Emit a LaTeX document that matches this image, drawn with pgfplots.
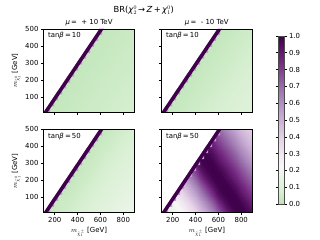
\documentclass[border=0pt]{standalone}
\usepackage{fontspec}
\setmainfont{DejaVu Sans}
\usepackage{pgfplots}
\pgfplotsset{compat=1.18}
\definecolor{zband}{RGB}{64,0,75}
\definecolor{teeth}{RGB}{190,155,205}
\pgfplotsset{
  colormap={brmap}{rgb255(0pt)=(188,228,182) rgb255(77pt)=(217,240,211) rgb255(231pt)=(247,247,247) rgb255(385pt)=(231,212,232) rgb255(538pt)=(194,165,207) rgb255(692pt)=(153,112,171) rgb255(846pt)=(118,42,131) rgb255(1000pt)=(64,0,75)},
  /pgf/number format/assume math mode=true,
  panel/.style={
    scale only axis, width=131.6pt, height=120pt, anchor=south west,
    view={0}{90},
    xmin=100, xmax=900, ymin=10, ymax=500,
    xtick={200,400,600,800}, ytick={100,200,300,400,500},
    tick align=outside, tick pos=left, major tick length=3.5pt,
    tick style={black, line width=0.8pt},
    axis line style={line width=0.8pt},
    axis on top,
    colormap name=brmap, point meta min=0, point meta max=1,
    ticklabel style={font=\fontsize{10}{12}\selectfont},
    label style={font=\fontsize{10}{12}\selectfont},
  },
  noxlabels/.style={xticklabels={}},
  noylabels/.style={yticklabels={}},
}
\newcommand{\bandplots}{%
  \addplot3[draw=none, fill=white] coordinates {(101,10,0) (601,510,0) (80,510,0) (80,10,0)};
  \addplot3[draw=none, fill=teeth] coordinates {(101,10,0) (160,10,0) (160,45,0) (195,45,0) (195,80,0) (230,80,0) (230,115,0) (265,115,0) (265,150,0) (300,150,0) (300,185,0) (335,185,0) (335,220,0) (370,220,0) (370,255,0) (405,255,0) (405,290,0) (440,290,0) (440,325,0) (475,325,0) (475,360,0) (510,360,0) (510,395,0) (545,395,0) (545,430,0) (580,430,0) (580,465,0) (615,465,0) (615,500,0) (650,500,0) (650,510,0) (601,510,0)};
  \addplot3[draw=none, fill=zband] coordinates {(101,10,0) (601,510,0) (638,510,0) (138,10,0)};
}
\begin{document}
\begin{tikzpicture}
\useasboundingbox (0,0) rectangle (460.8pt,345.6pt);
% top left
\begin{axis}[panel, noxlabels, at={(62.4pt,183.9pt)}, ylabel={$m_{\tilde\chi_1^0}$ [GeV]}]
\addplot3[surf, shader=interp, mesh/rows=3, mesh/cols=5] coordinates {
(100,10,0.020) (300,10,0.031) (500,10,0.044) (700,10,0.057) (900,10,0.070)
(100,255,0.001) (300,255,0.014) (500,255,0.028) (700,255,0.041) (900,255,0.054)
(100,500,0.000) (300,500,0.000) (500,500,0.011) (700,500,0.025) (900,500,0.038)
};
\bandplots
\node[anchor=north west, inner sep=0pt, font=\fontsize{10}{12}\selectfont] at (rel axis cs:0.05,0.96,0) {tan\textit{β}\,=\,10};
\end{axis}
% top right
\begin{axis}[panel, noxlabels, noylabels, at={(232.3pt,183.9pt)}]
\addplot3[surf, shader=interp, mesh/rows=3, mesh/cols=5] coordinates {
(100,10,0.015) (300,10,0.039) (500,10,0.063) (700,10,0.086) (900,10,0.110)
(100,255,0.000) (300,255,0.010) (500,255,0.034) (700,255,0.057) (900,255,0.081)
(100,500,0.000) (300,500,0.000) (500,500,0.005) (700,500,0.028) (900,500,0.052)
};
\bandplots
\node[anchor=north west, inner sep=0pt, font=\fontsize{10}{12}\selectfont] at (rel axis cs:0.05,0.96,0) {tan\textit{β}\,=\,10};
\end{axis}
% bottom left
\begin{axis}[panel, at={(62.4pt,39.3pt)}, ylabel={$m_{\tilde\chi_1^0}$ [GeV]}, xlabel={$m_{\tilde\chi_1^\pm}$ [GeV]}]
\addplot3[surf, shader=interp, mesh/rows=3, mesh/cols=5] coordinates {
(100,10,0.012) (300,10,0.054) (500,10,0.096) (700,10,0.138) (900,10,0.180)
(100,255,0.000) (300,255,0.002) (500,255,0.044) (700,255,0.086) (900,255,0.128)
(100,500,0.000) (300,500,0.000) (500,500,0.000) (700,500,0.035) (900,500,0.077)
};
\bandplots
\node[anchor=north west, inner sep=0pt, font=\fontsize{10}{12}\selectfont] at (rel axis cs:0.05,0.96,0) {tan\textit{β}\,=\,50};
\end{axis}
% bottom right
\begin{axis}[panel, noylabels, at={(232.3pt,39.3pt)}, xlabel={$m_{\tilde\chi_1^\pm}$ [GeV]}]
\addplot3[surf, shader=interp, mesh/rows=11, mesh/cols=17] coordinates {
(100,10,0.09) (150,10,0.12) (200,10,0.15) (250,10,0.20) (300,10,0.25) (350,10,0.31) (400,10,0.38) (450,10,0.46) (500,10,0.54) (550,10,0.63) (600,10,0.73) (650,10,0.83) (700,10,0.93) (750,10,0.99) (800,10,1.00) (850,10,0.99) (900,10,0.94)
(100,60,0.12) (150,60,0.15) (200,60,0.20) (250,60,0.25) (300,60,0.31) (350,60,0.38) (400,60,0.46) (450,60,0.54) (500,60,0.63) (550,60,0.73) (600,60,0.83) (650,60,0.93) (700,60,0.99) (750,60,1.00) (800,60,0.99) (850,60,0.94) (900,60,0.88)
(100,110,0.15) (150,110,0.20) (200,110,0.25) (250,110,0.31) (300,110,0.38) (350,110,0.46) (400,110,0.54) (450,110,0.63) (500,110,0.73) (550,110,0.83) (600,110,0.93) (650,110,0.99) (700,110,1.00) (750,110,0.99) (800,110,0.94) (850,110,0.88) (900,110,0.82)
(100,160,0.20) (150,160,0.25) (200,160,0.31) (250,160,0.38) (300,160,0.46) (350,160,0.54) (400,160,0.63) (450,160,0.73) (500,160,0.83) (550,160,0.93) (600,160,0.99) (650,160,1.00) (700,160,0.99) (750,160,0.94) (800,160,0.88) (850,160,0.82) (900,160,0.76)
(100,210,0.25) (150,210,0.31) (200,210,0.38) (250,210,0.46) (300,210,0.54) (350,210,0.63) (400,210,0.73) (450,210,0.83) (500,210,0.93) (550,210,0.99) (600,210,1.00) (650,210,0.99) (700,210,0.94) (750,210,0.88) (800,210,0.82) (850,210,0.76) (900,210,0.70)
(100,260,0.31) (150,260,0.38) (200,260,0.46) (250,260,0.54) (300,260,0.63) (350,260,0.73) (400,260,0.83) (450,260,0.93) (500,260,0.99) (550,260,1.00) (600,260,0.99) (650,260,0.94) (700,260,0.88) (750,260,0.82) (800,260,0.76) (850,260,0.70) (900,260,0.63)
(100,310,0.38) (150,310,0.46) (200,310,0.54) (250,310,0.63) (300,310,0.73) (350,310,0.83) (400,310,0.93) (450,310,0.99) (500,310,1.00) (550,310,0.99) (600,310,0.94) (650,310,0.88) (700,310,0.82) (750,310,0.76) (800,310,0.70) (850,310,0.63) (900,310,0.57)
(100,360,0.46) (150,360,0.54) (200,360,0.63) (250,360,0.73) (300,360,0.83) (350,360,0.93) (400,360,0.99) (450,360,1.00) (500,360,0.99) (550,360,0.94) (600,360,0.88) (650,360,0.82) (700,360,0.76) (750,360,0.70) (800,360,0.63) (850,360,0.57) (900,360,0.51)
(100,410,0.54) (150,410,0.63) (200,410,0.73) (250,410,0.83) (300,410,0.93) (350,410,0.99) (400,410,1.00) (450,410,0.99) (500,410,0.94) (550,410,0.88) (600,410,0.82) (650,410,0.76) (700,410,0.70) (750,410,0.63) (800,410,0.57) (850,410,0.51) (900,410,0.46)
(100,460,0.63) (150,460,0.73) (200,460,0.83) (250,460,0.93) (300,460,0.99) (350,460,1.00) (400,460,0.99) (450,460,0.94) (500,460,0.88) (550,460,0.82) (600,460,0.76) (650,460,0.70) (700,460,0.63) (750,460,0.57) (800,460,0.51) (850,460,0.46) (900,460,0.42)
(100,510,0.73) (150,510,0.83) (200,510,0.93) (250,510,0.99) (300,510,1.00) (350,510,0.99) (400,510,0.94) (450,510,0.88) (500,510,0.82) (550,510,0.76) (600,510,0.70) (650,510,0.63) (700,510,0.57) (750,510,0.51) (800,510,0.46) (850,510,0.42) (900,510,0.38)
};
\bandplots
\node[anchor=north west, inner sep=0pt, font=\fontsize{10}{12}\selectfont] at (rel axis cs:0.05,0.96,0) {tan\textit{β}\,=\,50};
\end{axis}
% colorbar
\pgfplotscolorbardrawstandalone[
  colormap name=brmap, point meta min=0, point meta max=1,
  colorbar style={
    at={(392.1pt,51.8pt)}, anchor=south west,
    scale only axis, width=8.6pt, height=242pt,
    ytick={0,0.1,0.2,0.3,0.4,0.5,0.6,0.7,0.8,0.9,1},
    yticklabel={\pgfmathprintnumber[fixed,fixed zerofill,precision=1]{\tick}},
    yticklabel style={font=\fontsize{10}{12}\selectfont},
    tick align=outside, major tick length=3.5pt,
    tick style={black, line width=0.8pt},
    axis line style={line width=0.8pt, black!70},
  }]
\node[anchor=base, font=\fontsize{12}{14}\selectfont] at (207pt,328pt) {BR(\textit{χ}$^{0}_{2}$\,→\,\textit{Z}\,+\,\textit{χ}$^{0}_{1}$)};
\node[anchor=base, font=\fontsize{10}{12}\selectfont] at (128.2pt,310pt) {\textit{μ}\,=\ \ + 10 TeV};
\node[anchor=base, font=\fontsize{10}{12}\selectfont] at (297.8pt,310pt) {\textit{μ}\,=\ \ - 10 TeV};
\end{tikzpicture}
\end{document}
